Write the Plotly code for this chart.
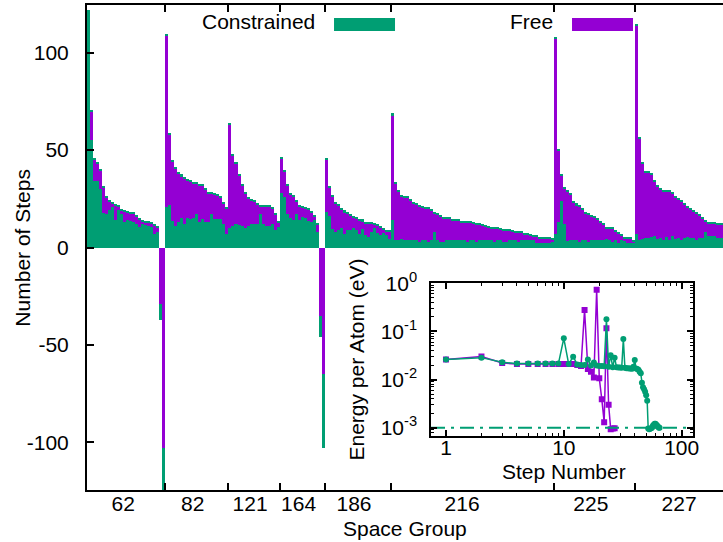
import plotly.graph_objects as go

# ---------------- data ----------------
groups = ["62", "82", "121", "164", "186", "216", "225", "227"]

free_62 = [121, 70, 45, 43, 39.5, 31, 25.5, 23.6, 22.8, 21.4, 21, 19, 18.5, 18, 17.3, 17.3,
           16, 14.2, 13.5, 13, 13, 12.4, 11.2, 10.3, -29, -103]
cons_62 = [121, 55, 34, 34, 30, 17.5, 17, 19, 21, 14, 19.5, 17, 13, 14, 13.5, 13,
           12, 10.5, 12, 11.5, 11, 10.5, 7, 8, -37, -130]

free_82 = [109, 58, 44, 40.5, 38, 36.7, 35.5, 34.5, 33.7, 32.8, 32.8, 31.6, 31.6, 30, 27.6,
           27.6, 27, 26.6, 25.5, 22.5, 20]
cons_82 = [21, 22, 13.5, 11, 13, 15, 12, 15, 14.7, 15, 17, 13, 14.5, 13, 13,
           17, 14.7, 14.7, 14.7, 12, 7]

free_121 = [63, 47, 43, 37, 32, 27.5, 25, 24.3, 23.8, 22, 21.2, 21.1, 21.1, 21, 20, 17, 13]
cons_121 = [10, 11, 12, 11.5, 11, 10, 11, 12, 12.2, 12, 17, 12, 11, 11, 12, 9, 10.5]

free_164 = [45.5, 39, 32, 27, 26, 23.5, 21.1, 20.5, 20, 19.5, 18, 16, 12, -35, -65]
cons_164 = [28, 26, 17, 15, 14, 17, 14, 15.6, 15, 13.5, 13, 14, 8, -46, -103]

free_186 = [45, 31, 26, 22.5, 21.5, 19.5, 18.2, 17.5, 16.5, 15.6, 15, 13.7, 13.6, 12.5, 12.5,
            12.5, 12, 11.2, 10.3, 9.1, 8.4, 8.4]
cons_186 = [18, 16, 9.5, 8, 9, 10, 7, 9, 9, 10, 9, 7, 9.5, 6.5, 5.5,
            8, 10, 7.5, 6.4, 7.5, 6.4, 4.5]

free_216 = [68, 33, 28.5, 26.3, 25.8, 25.5, 24, 22.5, 22, 20.9, 20.5, 19.9, 19.9, 19.2, 17.5,
            16.8, 15.9, 14.8, 14.7, 14.7, 13.8, 13.8, 13.8, 12.9, 12.8, 12.8, 12.8, 12.2, 11.6,
            11.6, 11.5, 10.6, 10.3, 9.7, 9.7, 9.7, 9.2, 8.7, 8.7, 8.7, 8.1, 7.7, 7.7, 7.5, 6.7,
            6.7, 6, 5.5, 5.5, 4.6, 4.6, 4.6, 4.4, 3.9]
cons_216 = [14, 3.6, 3.6, 4.5, 3.6, 3.6, 3.6, 3.6, 3.6, 2.8, 3.6, 3.6, 2.8, 3.6, 8,
            3.6, 2.6, 2.6, 3.6, 3.6, 3.6, 3.6, 3.6, 3.6, 3.6, 2.8, 3.6, 3.6, 2.8,
            3.6, 3.6, 3.6, 3.6, 3.6, 2.8, 3.6, 3.6, 2.8, 2.8, 3.6, 3.6, 3.6, 2.8, 3.6, 3.6,
            3.6, 3.6, 3.6, 2.4, 2.4, 2.4, 2.4, 2.4, 2.6]

free_225 = [107.5, 50, 37, 30.5, 28.6, 27, 23.2, 21.8, 21, 19.3, 17.6, 17, 16, 15.4, 14.2,
            13, 11.7, 9.8, 9.6, 9.6, 8.3, 7, 6.1, 4.8, 4.6, 4.6, 3.2]
cons_225 = [7, 13, 24, 12, 3.5, 3.6, 3.6, 3.6, 2.8, 3.6, 3.6, 2.6, 3.6, 3.6, 3.6,
            3.6, 3.6, 4.5, 3.6, 3, 4, 2.4, 3.6, 3.2, 2.4, 2.4, 2.4]

free_227 = [114, 56, 43, 38.5, 38.3, 37.5, 34, 31.5, 30, 28.9, 28.9, 28.5, 27.5, 25.5, 24.4,
            23.5, 22, 20.5, 19.3, 18.4, 17.5, 16.4, 14.8, 13.3, 12.5, 12.5, 12.5, 11.7, 11.7, 11.7]
cons_227 = [7, 4, 4.5, 5, 5, 5.5, 6, 4.5, 5, 4, 5.5, 4, 6, 4.5, 5,
            4, 5, 5.5, 5, 5, 4, 5, 5, 8, 6, 6, 6, 5, 5, 5]

# inset: energy per atom vs step number
steps_free = list(range(1, 28))
energy_free = [0.026, 0.030, 0.022, 0.021, 0.021, 0.021, 0.021, 0.021, 0.021, 0.021,
               0.021, 0.021, 0.020, 0.019, 0.28, 0.0165, 0.0145, 0.011, 0.73, 0.0106,
               0.0039, 0.0013, 0.116, 0.0030, 0.00093, 0.00096, 0.00097]
steps_cons = list(range(1, 66))
energy_cons = [0.026, 0.0285, 0.0228, 0.0215, 0.0215, 0.0215, 0.0215, 0.0215, 0.0215, 0.072,
               0.021, 0.0298, 0.0206, 0.020, 0.020, 0.026, 0.0195, 0.0226, 0.0195, 0.019,
               0.019, 0.0188, 0.178, 0.0185, 0.0318, 0.018, 0.0285, 0.018, 0.0178, 0.0178,
               0.0175, 0.0697, 0.0175, 0.0172, 0.0172, 0.017, 0.017, 0.0168, 0.0185, 0.0255,
               0.017, 0.0165, 0.016, 0.0145, 0.0135, 0.0086, 0.0069, 0.0063, 0.0056, 0.0047,
               0.0036, 0.00096, 0.00093, 0.00095, 0.00097, 0.0010, 0.0011, 0.00115, 0.0012, 0.0012,
               0.00115, 0.0011, 0.00105, 0.0010, 0.0010]
threshold = 1e-3

# ---------------- build ----------------
PURPLE = "#9400D3"
GREEN = "#009E73"
FONT = "Liberation Sans, Arial, Helvetica, sans-serif"

free_sections = [free_62, free_82, free_121, free_164, free_186, free_216, free_225, free_227]
cons_sections = [cons_62, cons_82, cons_121, cons_164, cons_186, cons_216, cons_225, cons_227]
free = [v for s in free_sections for v in s]
cons = [v for s in cons_sections for v in s]
idx = list(range(len(free)))

sizes = [len(s) for s in free_sections]
bounds = []
acc = 0
for n in sizes[:-1]:
    acc += n
    bounds.append(acc - 0.5)

fig = go.Figure()
fig.add_bar(x=idx, y=free, width=1, marker=dict(color=PURPLE, line=dict(width=0)),
            showlegend=False, name="Free")
pos = [i for i in idx if free[i] > 0]
CAP = 0.8
fig.add_bar(x=pos, y=[CAP] * len(pos), base=[free[i] for i in pos], width=1,
            marker=dict(color=GREEN, line=dict(width=0)), showlegend=False, hoverinfo="skip")
fig.add_bar(x=idx, y=cons, width=1, marker=dict(color=GREEN, line=dict(width=0)),
            showlegend=False, name="Constrained")
neg = [i for i in idx if free[i] < 0]
fig.add_bar(x=neg, y=[free[i] for i in neg], width=1,
            marker=dict(color=PURPLE, line=dict(width=0)), showlegend=False, hoverinfo="skip")

# inset
fig.add_trace(go.Scatter(x=steps_free, y=energy_free, mode="lines+markers", xaxis="x2", yaxis="y2",
                         line=dict(color=PURPLE, width=1.5),
                         marker=dict(symbol="square", size=6, color=PURPLE), showlegend=False))
fig.add_trace(go.Scatter(x=steps_cons, y=energy_cons, mode="lines+markers", xaxis="x2", yaxis="y2",
                         line=dict(color=GREEN, width=1.5),
                         marker=dict(symbol="circle", size=6, color=GREEN), showlegend=False))
xr2 = [-0.127, 2.094]
fig.add_trace(go.Scatter(x=[10 ** xr2[0], 10 ** xr2[1]], y=[threshold, threshold], mode="lines",
                         xaxis="x2", yaxis="y2",
                         line=dict(color=GREEN, width=2, dash="14px,6px,3px,6px"),
                         showlegend=False, hoverinfo="skip"))

label_pos = [11.5, 34.6, 53.7, 69.8, 88.2, 124.1, 166.9, 196.2]

axis_common = dict(showgrid=False, zeroline=False, showline=True, linecolor="black",
                   tickcolor="black", tickfont=dict(family=FONT, size=21, color="black"),
                   automargin=False)

minor_x = [v * m for v in (1, 10) for m in range(2, 10)]
minor_y = [0.0007, 0.0008, 0.0009] + [v * m for v in (0.001, 0.01, 0.1) for m in range(2, 10)]

fig.update_layout(
    width=723, height=542,
    margin=dict(l=87, r=0, t=5, b=52, autoexpand=False),
    paper_bgcolor="white", plot_bgcolor="white",
    barmode="overlay", bargap=0,
    font=dict(family=FONT, size=21, color="black"),
    xaxis=dict(**axis_common, range=[-0.5, 210.8], linewidth=2, mirror="ticks",
               tickmode="array", tickvals=label_pos, ticktext=groups, ticks="",
               ticklabelstandoff=-6,
               minor=dict(tickmode="array", tickvals=bounds, ticks="inside", ticklen=7,
                          tickwidth=2, tickcolor="black", showgrid=False)),
    yaxis=dict(**axis_common, range=[-124.5, 124.5], linewidth=2, mirror=False,
               tickmode="array", tickvals=[-100, -50, 0, 50, 100],
               ticktext=["-100", "-50", "0", "50", "100"], ticks="inside", ticklen=7, tickwidth=2,
               ticklabelstandoff=12),
    xaxis2=dict(**axis_common, type="log", range=xr2, domain=[0.5409, 0.9524], anchor="y2",
                linewidth=1.5, mirror="allticks", tickmode="array", tickvals=[1, 10, 100],
                ticktext=["1", "10", "100"], ticks="inside", ticklen=6, tickwidth=1.5,
                ticklabelstandoff=-8,
                minor=dict(tickmode="array", tickvals=minor_x, ticks="inside", ticklen=3,
                           tickwidth=1, tickcolor="black", showgrid=False)),
    yaxis2=dict(**axis_common, type="log", range=[-3.167, 0], domain=[0.112, 0.4262], anchor="x2",
                linewidth=1.5, mirror="allticks", tickmode="array",
                tickvals=[0.001, 0.01, 0.1, 1],
                ticktext=["10<sup>-3</sup>", "10<sup>-2</sup>", "10<sup>-1</sup>", "10<sup>0</sup>"],
                ticks="inside", ticklen=6, tickwidth=1.5, ticklabelstandoff=8,
                minor=dict(tickmode="array", tickvals=minor_y, ticks="inside", ticklen=3,
                           tickwidth=1, tickcolor="black", showgrid=False)),
)

ann = dict(xref="paper", yref="paper", showarrow=False, font=dict(family=FONT, size=21, color="black"))
fig.add_annotation(text="Number of Steps", x=-0.102, y=0.5, textangle=-90,
                   xanchor="center", yanchor="middle", **ann)
fig.add_annotation(text="Space Group", x=0.5, y=-0.0804, xanchor="center", yanchor="middle", **ann)
fig.add_annotation(text="Step Number", x=0.75, y=0.0372, xanchor="center", yanchor="middle", **ann)
fig.add_annotation(text="Energy per Atom (eV)", x=0.4245, y=0.269, textangle=-90,
                   xanchor="center", yanchor="middle", **ann)
fig.add_annotation(text="Constrained", x=0.3616, y=0.965, xanchor="right", yanchor="middle", **ann)
fig.add_annotation(text="Free", x=0.7358, y=0.965, xanchor="right", yanchor="middle", **ann)

fig.add_shape(type="rect", xref="paper", yref="paper", x0=0.3884, x1=0.4843, y0=0.9464, y1=0.9732,
              fillcolor=GREEN, line=dict(width=0))
fig.add_shape(type="rect", xref="paper", yref="paper", x0=0.7626, x1=0.8585, y0=0.9464, y1=0.9732,
              fillcolor=PURPLE, line=dict(width=0))

fig.write_html("out.html", config={"displayModeBar": False},
               post_script="document.body.style.margin='0';")
